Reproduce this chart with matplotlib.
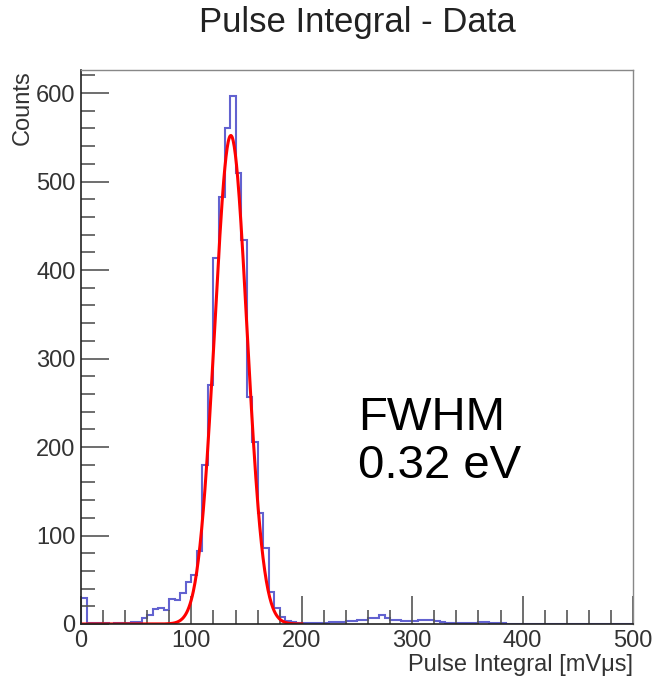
import numpy as np
import matplotlib.pyplot as plt
from matplotlib.ticker import MultipleLocator

plt.rcParams['font.family'] = ['Liberation Sans', 'DejaVu Sans']

# histogram: 5-unit bins from 0 to 500
bin_edges = np.arange(0, 505, 5)
counts = [
    29, 1, 1, 1, 1, 0, 1, 1, 1, 2,
    2, 7, 10, 17, 18, 16, 28, 27, 35, 47,
    55, 82, 180, 270, 414, 482, 561, 597, 510, 434,
    256, 206, 125, 86, 36, 18, 8, 3, 2, 1,
    1, 1, 1, 1, 1, 2, 2, 2, 3, 3,
    4, 5, 7, 7, 10, 7, 4, 4, 3, 3,
    3, 4, 4, 4, 3, 2, 1, 1, 1, 1,
    1, 1, 2, 2, 1, 1, 1, 0, 0, 0,
    0, 0, 0, 0, 0, 0, 0, 0, 0, 0,
    0, 0, 0, 0, 0, 0, 0, 0, 0, 0,
]

# gaussian fit parameters
fit_amp = 552
fit_mean = 135.7
fit_sigma = 14.6
fit_range = (0, 200)

fig = plt.figure(figsize=(6.57, 6.79), dpi=100)
ax = fig.add_axes([81 / 657, 55 / 679, 552 / 657, 554 / 679])

ax.stairs(counts, bin_edges, color='#4646c8', linewidth=1.5, alpha=0.85)

xf = np.linspace(fit_range[0], fit_range[1], 400)
yf = fit_amp * np.exp(-0.5 * ((xf - fit_mean) / fit_sigma) ** 2)
ax.plot(xf, yf, color='red', linewidth=2.2)

ax.set_xlim(0, 500)
ax.set_ylim(0, 626)

ax.xaxis.set_major_locator(MultipleLocator(100))
ax.xaxis.set_minor_locator(MultipleLocator(20))
ax.yaxis.set_major_locator(MultipleLocator(100))
ax.yaxis.set_minor_locator(MultipleLocator(20))

ax.tick_params(which='both', direction='in', top=False, right=False,
               color='#555555', labelsize=17, labelcolor='#333333')
ax.tick_params(which='major', length=20, width=1.2)
ax.tick_params(which='minor', length=10, width=1.2)
ax.tick_params(axis='x', pad=4)
ax.tick_params(axis='y', pad=4)

for s in ['top', 'right']:
    ax.spines[s].set_color('#888888')
    ax.spines[s].set_linewidth(1.0)
for s in ['left', 'bottom']:
    ax.spines[s].set_color('#222222')
    ax.spines[s].set_linewidth(1.2)

ax.set_xlabel('Pulse Integral [mVμs]', fontsize=17, color='#333333')
ax.xaxis.set_label_coords(1.0, -0.055)
ax.xaxis.label.set_ha('right')
ax.xaxis.label.set_va('top')

ax.set_ylabel('Counts', fontsize=17, color='#333333')
ax.yaxis.set_label_coords(-0.105, 1.0)
ax.yaxis.label.set_ha('right')
ax.yaxis.label.set_va('center')

fig.text(357 / 657, 1 - 32 / 679, 'Pulse Integral - Data', fontsize=25,
         ha='center', va='baseline', color='#222222')

ax.text(251, 219, 'FWHM', fontsize=34, va='baseline', ha='left', color='black')
ax.text(251, 165, '0.32 eV', fontsize=34, va='baseline', ha='left', color='black')

fig.savefig('out.png', dpi=100, facecolor='white')
